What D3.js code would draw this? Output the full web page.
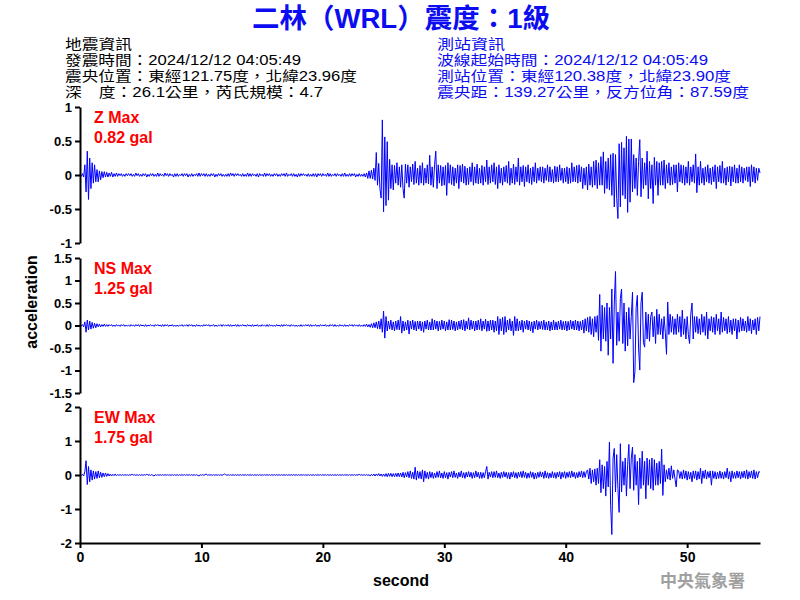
<!DOCTYPE html>
<html><head><meta charset="utf-8">
<script src="https://cdn.jsdelivr.net/npm/d3@7"></script>
<style>body{margin:0;background:#fff} svg{display:block}</style>
</head><body>
<svg id="c" width="800" height="600"></svg>
<script>
// ---- data (acceleration in gal, one value every SAMPLE_STEP seconds) ----
const SAMPLE_STEP = 0.1;
const zValues = [
 0.01,-0.02,0.02,-0.03,0.15,-0.25,0.35,-0.36,0.25,-0.2,
 0.18,-0.12,0.15,-0.1,0.08,-0.1,0.06,-0.07,0.05,-0.04,
 0.05,-0.03,0.04,-0.03,0.03,-0.02,0.04,-0.03,0.02,-0.02,
 0.03,-0.02,0.02,-0.01,0.02,-0.02,0.01,-0.02,0.02,-0.01,
 0.02,-0.01,0.02,-0.02,0.01,-0.02,0.03,-0.01,0.02,-0.02,
 0.01,-0.02,0.02,-0.01,0.02,-0.03,0.01,-0.02,0.02,-0.01,
 0.02,-0.02,0.01,-0.02,0.03,-0.02,0.02,-0.01,0.01,-0.02,
 0.03,-0.01,0.02,-0.02,0.02,-0.01,0.01,-0.03,0.02,-0.02,
 0.02,-0.02,0.01,-0.01,0.02,-0.02,0.02,-0.01,0.02,-0.03,
 0.01,-0.02,0.02,-0.02,0.01,-0.01,0.02,-0.02,0.03,-0.02,
 0.02,-0.01,0.02,-0.02,0.02,-0.02,0.01,-0.02,0.02,-0.01,
 0.02,-0.03,0.01,-0.02,0.02,-0.01,0.02,-0.02,0.01,-0.02,
 0.01,-0.02,0.02,-0.02,0.03,-0.01,0.02,-0.02,0.02,-0.01,
 0.02,-0.01,0.01,-0.02,0.02,-0.02,0.01,-0.02,0.03,-0.02,
 0.02,-0.02,0.02,-0.01,0.01,-0.02,0.02,-0.03,0.02,-0.01,
 0.01,-0.02,0.03,-0.02,0.02,-0.01,0.02,-0.02,0.01,-0.02,
 0.02,-0.01,0.02,-0.02,0.01,-0.02,0.02,-0.01,0.02,-0.02,
 0.03,-0.02,0.01,-0.01,0.02,-0.02,0.02,-0.02,0.01,-0.03,
 0.02,-0.02,0.02,-0.01,0.02,-0.01,0.01,-0.02,0.02,-0.02,
 0.01,-0.02,0.02,-0.02,0.02,-0.03,0.02,-0.01,0.02,-0.02,
 0.02,-0.01,0.01,-0.02,0.03,-0.02,0.02,-0.02,0.01,-0.01,
 0.02,-0.02,0.02,-0.01,0.01,-0.02,0.02,-0.02,0.03,-0.02,
 0.01,-0.02,0.02,-0.02,0.02,-0.01,0.02,-0.03,0.01,-0.02,
 0.02,-0.02,0.01,-0.02,0.02,-0.03,0.03,-0.05,0.06,-0.05,
 0.07,-0.06,0.1,-0.08,0.33,-0.15,0.17,-0.2,-0.34,0.81,
 -0.54,0.56,-0.45,0.49,-0.37,0.23,-0.2,0.15,-0.22,0.14,
 -0.12,0.18,-0.15,0.12,-0.18,0.15,-0.2,-0.34,0.16,-0.12,
 0.15,-0.18,0.12,-0.1,0.16,-0.14,0.2,-0.12,0.1,-0.15,
 0.14,-0.12,0.18,-0.15,0.1,-0.12,0.15,-0.13,0.29,-0.15,
 0.12,-0.18,0.15,0.35,-0.2,0.15,-0.12,0.14,-0.16,0.12,
 -0.15,0.14,-0.3,0.18,-0.12,0.15,-0.14,0.12,-0.16,0.1,
 -0.12,0.15,-0.2,0.14,-0.1,0.16,-0.12,0.13,-0.15,0.1,
 -0.14,0.12,-0.1,0.18,-0.15,0.12,-0.12,0.16,-0.13,0.1,
 -0.12,0.14,-0.15,0.12,-0.1,0.22,-0.14,0.12,-0.12,0.15,
 -0.1,0.18,-0.14,0.12,-0.2,0.15,-0.12,0.1,-0.15,0.12,
 -0.1,0.14,-0.12,0.2,-0.15,0.1,-0.12,0.16,-0.14,0.12,
 -0.1,0.25,-0.15,0.12,-0.1,0.14,-0.17,0.12,-0.1,0.15,
 -0.12,0.1,-0.14,0.12,-0.1,0.18,-0.12,0.1,-0.08,0.12,
 -0.1,0.12,-0.12,0.1,-0.08,0.15,-0.1,0.12,-0.1,0.08,
 -0.12,0.13,-0.1,0.12,-0.1,0.15,-0.08,0.1,-0.12,0.1,
 -0.1,0.12,-0.13,0.1,-0.12,0.18,-0.1,0.12,-0.1,0.14,
 -0.12,0.15,-0.1,0.12,-0.2,0.1,-0.15,0.12,-0.22,0.16,
 -0.15,0.12,-0.18,0.2,-0.15,0.22,-0.2,0.18,-0.15,0.27,
 -0.15,0.34,-0.27,0.2,-0.2,0.25,-0.22,0.3,-0.3,0.32,
 -0.47,0.3,-0.35,-0.64,0.46,-0.47,0.48,-0.3,0.4,-0.35,
 0.57,-0.55,0.53,-0.4,0.53,-0.25,0.3,-0.2,0.25,-0.3,
 0.2,0.52,-0.32,0.25,-0.2,0.18,-0.15,0.35,-0.35,0.2,
 -0.2,0.15,-0.42,0.26,-0.15,0.2,-0.3,0.18,-0.15,0.2,
 -0.15,0.22,-0.2,0.15,-0.12,0.18,-0.15,0.12,-0.14,0.15,
 -0.12,0.15,-0.25,0.18,-0.1,0.15,-0.12,0.14,-0.15,0.12,
 -0.12,0.2,-0.15,0.12,-0.1,0.15,-0.12,0.31,-0.26,0.12,
 -0.15,0.2,-0.12,0.1,-0.15,0.12,-0.1,0.15,-0.12,0.1,
 -0.14,0.12,-0.1,0.15,-0.2,0.12,-0.1,0.14,-0.12,0.2,
 -0.12,0.1,-0.15,0.12,-0.1,0.13,-0.16,0.12,-0.1,0.15,
 -0.12,0.1,-0.12,0.15,-0.1,0.12,-0.12,0.1,-0.08,0.12,
 -0.1,0.12,-0.17,0.15,-0.1,0.12,-0.12,0.1,-0.08,0.1,
 0.03
];
const nsValues = [
 0.01,-0.01,0.02,-0.03,0.08,-0.15,0.12,-0.1,0.1,-0.08,
 0.07,-0.06,0.05,-0.05,0.04,-0.03,0.03,-0.03,0.02,-0.02,
 0.03,-0.02,0.02,-0.02,0.02,-0.01,0.02,-0.02,0.01,-0.02,
 0.02,-0.01,0.01,-0.02,0.02,-0.01,0.02,-0.02,0.01,-0.01,
 0.01,-0.02,0.02,-0.01,0.01,-0.02,0.02,-0.01,0.02,-0.02,
 0.02,-0.01,0.01,-0.02,0.02,-0.02,0.01,-0.01,0.02,-0.01,
 0.01,-0.02,0.02,-0.01,0.02,-0.01,0.01,-0.02,0.02,-0.02,
 0.02,-0.01,0.02,-0.02,0.01,-0.01,0.02,-0.02,0.01,-0.02,
 0.01,-0.02,0.01,-0.01,0.02,-0.02,0.01,-0.01,0.02,-0.02,
 0.02,-0.01,0.02,-0.02,0.01,-0.02,0.02,-0.01,0.01,-0.02,
 0.01,-0.02,0.02,-0.01,0.02,-0.01,0.02,-0.02,0.01,-0.01,
 0.02,-0.02,0.01,-0.02,0.01,-0.01,0.02,-0.02,0.02,-0.01,
 0.01,-0.01,0.02,-0.02,0.02,-0.02,0.01,-0.01,0.02,-0.02,
 0.02,-0.02,0.01,-0.01,0.02,-0.01,0.01,-0.02,0.02,-0.01,
 0.01,-0.02,0.02,-0.02,0.01,-0.01,0.02,-0.02,0.01,-0.02,
 0.02,-0.01,0.01,-0.02,0.02,-0.02,0.02,-0.01,0.01,-0.02,
 0.01,-0.02,0.02,-0.01,0.01,-0.02,0.02,-0.02,0.02,-0.01,
 0.02,-0.01,0.01,-0.02,0.02,-0.01,0.01,-0.02,0.01,-0.02,
 0.01,-0.02,0.02,-0.02,0.01,-0.01,0.02,-0.01,0.02,-0.02,
 0.02,-0.02,0.01,-0.01,0.02,-0.02,0.01,-0.02,0.02,-0.01,
 0.01,-0.01,0.02,-0.02,0.01,-0.02,0.02,-0.01,0.02,-0.02,
 0.02,-0.02,0.01,-0.02,0.02,-0.01,0.01,-0.02,0.02,-0.02,
 0.01,-0.02,0.02,-0.01,0.02,-0.02,0.02,-0.01,0.01,-0.02,
 0.02,-0.02,0.01,-0.02,0.02,-0.02,0.03,-0.03,0.02,-0.04,
 0.04,-0.05,0.06,-0.05,0.08,-0.07,0.1,-0.08,0.15,-0.15,
 0.32,-0.28,0.2,-0.12,0.1,-0.08,0.12,-0.1,0.08,-0.12,
 0.1,-0.09,0.12,-0.1,0.2,-0.17,0.1,-0.12,0.08,-0.1,
 0.12,-0.19,0.1,-0.08,0.12,-0.1,0.09,-0.12,0.1,-0.08,
 0.1,-0.12,0.08,-0.15,0.1,-0.08,0.12,-0.1,0.08,-0.1,
 0.15,-0.1,0.12,-0.08,0.1,-0.12,0.09,-0.1,0.12,-0.08,
 0.1,-0.12,0.08,-0.1,0.13,-0.1,0.12,-0.09,0.1,-0.12,
 0.08,-0.1,0.1,-0.08,0.12,-0.1,0.13,-0.12,0.1,-0.08,
 0.17,-0.1,0.12,-0.08,0.1,-0.12,0.1,-0.1,0.12,-0.09,
 0.15,-0.12,0.1,-0.08,0.14,-0.13,0.1,-0.12,0.12,-0.1,
 0.12,-0.15,0.1,-0.12,0.2,-0.2,0.15,-0.12,0.18,-0.2,
 0.2,-0.15,0.12,-0.1,0.15,-0.12,0.1,-0.22,0.2,-0.12,
 0.15,-0.12,0.1,-0.1,0.12,-0.15,0.1,-0.08,0.12,-0.1,
 0.1,-0.12,0.08,-0.16,0.1,-0.08,0.12,-0.1,0.09,-0.08,
 0.1,-0.09,0.12,-0.1,0.08,-0.1,0.1,-0.12,0.08,-0.1,
 0.12,-0.1,0.08,-0.1,0.1,-0.08,0.12,-0.1,0.09,-0.1,
 0.1,-0.12,0.09,-0.1,0.12,-0.08,0.1,-0.1,0.12,-0.1,
 0.1,-0.12,0.09,-0.1,0.12,-0.17,0.15,-0.12,0.18,-0.15,
 0.2,-0.2,0.15,-0.25,0.2,-0.15,0.22,-0.33,0.69,-0.57,
 0.45,-0.3,0.4,-0.35,0.5,-0.66,0.4,-0.3,0.81,-0.84,
 0.5,1.2,-0.44,0.3,-0.35,0.6,0.81,-0.4,0.5,-0.57,
 0.3,-0.45,0.4,-0.3,0.2,0.74,-1.27,-1.03,0.4,0.67,
 -0.5,-0.99,0.5,0.74,-0.38,-0.48,0.3,-0.3,0.25,-0.35,
 0.2,0.3,-0.25,0.2,-0.4,0.36,-0.2,0.25,-0.2,0.15,
 -0.3,0.2,-0.15,-0.64,0.52,-0.2,0.25,-0.15,0.2,-0.2,
 0.15,-0.2,0.25,-0.15,0.2,-0.25,0.34,-0.2,0.15,-0.3,
 0.2,-0.2,-0.4,0.25,0.5,-0.3,0.2,-0.15,0.2,-0.18,
 0.15,-0.2,0.25,-0.15,0.2,-0.22,0.3,-0.3,0.15,-0.12,
 0.2,-0.15,0.18,-0.2,0.25,-0.12,0.15,-0.2,0.3,-0.15,
 0.18,-0.12,0.15,-0.18,0.2,-0.15,0.12,-0.2,0.15,-0.12,
 0.15,-0.3,0.12,-0.15,0.18,-0.12,0.15,-0.12,0.1,-0.15,
 0.2,-0.12,0.15,-0.18,0.12,-0.1,0.15,-0.2,0.18,-0.12,
 0.2
];
const ewValues = [
 0.01,-0.01,0.02,-0.03,0.1,0.42,-0.28,0.25,-0.2,0.15,
 -0.15,0.12,-0.12,0.1,-0.1,0.12,-0.08,0.08,-0.07,0.06,
 -0.05,0.06,-0.04,0.04,-0.03,0.03,-0.03,0.02,-0.02,0.03,
 -0.02,0.01,-0.01,0.01,-0.01,0.01,-0.01,0.01,-0.01,0.01,
 -0.01,0.01,-0.01,0.03,-0.01,0.01,-0.01,0.01,-0.01,0.01,
 -0.01,0.01,-0.01,0.01,-0.01,0.03,-0.01,0.01,-0.01,0.01,
 -0.01,-0.03,0.01,-0.01,0.01,-0.01,0.01,-0.01,0.01,-0.01,
 0.01,-0.01,0.01,-0.01,0.01,-0.01,0.01,-0.01,0.01,-0.01,
 0.01,-0.01,0.01,-0.01,0.01,-0.01,0.01,-0.01,0.01,-0.01,
 0.01,-0.01,0.01,-0.01,0.01,-0.01,0.01,-0.01,-0.03,0.01,
 -0.01,0.01,-0.01,0.01,0.03,-0.01,0.01,-0.01,0.01,-0.01,
 0.01,-0.01,0.01,-0.01,0.01,-0.01,0.01,-0.01,0.01,0.03,
 0.01,-0.01,0.01,-0.01,0.01,-0.01,0.01,-0.01,0.01,-0.01,
 0.01,-0.01,0.01,-0.01,0.01,-0.01,0.01,-0.01,0.01,-0.01,
 0.01,-0.01,0.01,-0.01,0.01,-0.01,0.01,-0.01,0.01,-0.01,
 0.01,-0.01,0.01,-0.01,0.01,-0.01,0.01,-0.01,0.01,-0.01,
 0.01,-0.01,0.01,-0.01,0.01,-0.01,0.01,-0.01,0.01,-0.01,
 0.01,-0.01,0.01,-0.01,0.01,-0.01,0.01,-0.01,0.01,-0.01,
 0.01,-0.01,0.01,-0.01,0.01,-0.01,0.01,-0.01,0.01,-0.01,
 0.01,-0.01,0.01,-0.01,0.01,-0.01,0.01,-0.01,0.01,-0.01,
 0.01,-0.01,0.01,-0.01,0.01,-0.01,0.01,-0.01,0.01,-0.01,
 0.01,-0.01,0.01,-0.01,0.01,-0.01,0.01,-0.01,0.01,-0.01,
 0.01,-0.01,0.01,-0.01,0.01,-0.01,0.01,-0.01,0.01,-0.01,
 0.03,-0.01,0.01,-0.01,0.01,-0.01,0.01,-0.01,0.01,-0.03,
 0.02,-0.02,0.03,-0.03,0.03,-0.02,0.04,-0.03,0.03,-0.04,
 0.03,-0.04,0.04,-0.05,0.05,-0.04,0.05,-0.05,0.04,-0.05,
 0.05,-0.05,0.06,-0.05,0.06,-0.06,0.08,-0.08,0.07,-0.06,
 0.1,-0.08,0.12,-0.1,0.08,-0.12,0.23,-0.15,0.12,-0.1,
 0.1,-0.12,0.15,-0.2,0.12,-0.1,0.08,-0.12,0.1,-0.08,
 0.08,-0.1,0.06,-0.08,0.1,-0.07,0.12,-0.08,0.06,-0.1,
 0.1,-0.08,0.07,-0.12,0.08,-0.06,0.1,-0.08,0.12,-0.07,
 0.06,-0.1,0.08,-0.06,0.12,-0.08,0.07,-0.1,0.08,-0.06,
 0.1,-0.06,0.08,-0.1,0.07,-0.08,0.12,-0.06,0.08,-0.1,
 0.08,-0.1,0.07,-0.08,0.1,0.25,-0.12,0.08,-0.06,0.1,
 -0.08,0.1,-0.07,0.12,-0.08,0.06,-0.1,0.08,-0.07,0.1,
 -0.06,0.08,-0.1,0.07,-0.12,0.08,-0.06,0.1,-0.08,0.07,
 -0.1,0.08,-0.06,0.1,-0.08,0.12,-0.07,0.08,-0.1,0.06,
 -0.08,0.1,-0.07,0.08,-0.12,0.06,-0.1,0.08,-0.07,0.1,
 -0.06,0.08,-0.1,0.12,-0.08,0.07,-0.1,0.06,-0.08,0.1,
 -0.08,0.07,-0.1,0.08,-0.06,0.1,-0.12,0.08,-0.07,0.1,
 -0.1,0.08,-0.07,0.1,-0.08,0.12,-0.06,0.08,-0.1,0.07,
 -0.08,0.1,-0.06,0.12,-0.08,0.1,-0.07,0.1,0.15,-0.12,
 0.2,-0.25,0.15,-0.2,0.18,-0.3,0.2,-0.25,0.45,-0.52,
 0.3,-0.4,0.25,-0.62,0.4,-0.35,0.97,-0.9,-1.75,0.5,
 0.78,-0.5,0.6,-0.4,-1.1,0.92,-0.5,0.4,-0.3,0.5,
 -0.62,0.3,0.9,-0.4,0.5,0.82,-0.45,0.6,-0.3,0.4,
 -0.87,0.5,-0.4,0.7,-0.3,0.4,-0.7,0.5,-0.3,0.45,
 -0.4,0.5,-0.45,0.45,-0.3,0.35,-0.3,0.4,-0.25,0.76,
 -0.6,0.3,-0.2,0.15,-0.12,0.2,-0.15,0.27,-0.1,0.15,
 -0.12,-0.35,0.15,0.12,-0.1,0.1,-0.12,0.15,-0.1,0.12,
 -0.15,0.1,-0.12,0.08,-0.2,0.12,-0.1,0.12,-0.15,0.1,
 -0.12,0.2,-0.25,0.12,-0.1,0.15,-0.12,0.1,-0.08,0.12,
 -0.3,0.12,-0.1,0.1,-0.12,0.08,-0.1,0.12,-0.1,0.08,
 -0.12,0.1,-0.08,0.2,-0.12,0.1,-0.2,0.12,-0.1,0.08,
 -0.1,0.12,-0.08,0.1,-0.12,0.1,-0.08,0.12,-0.1,0.15,
 -0.12,0.1,-0.08,0.12,-0.1,0.15,-0.12,0.1,-0.08,0.1,
 0.08
];
const channelNames = ["Z Max", "NS Max", "EW Max"];
const maxLabels = ["0.82 gal", "1.25 gal", "1.75 gal"];
const yDomains = [[-1, 1], [-1.5, 1.5], [-2, 2]];
const yTickValues = [[-1, -0.5, 0, 0.5, 1], [-1.5, -1, -0.5, 0, 0.5, 1, 1.5], [-2, -1, 0, 1, 2]];
const xTickValues = [0, 10, 20, 30, 40, 50];
const xDomain = [0, 56];
const titleText = "二林（WRL）震度：1級";
const quakeInfo = ["地震資訊", "發震時間：2024/12/12 04:05:49", "震央位置：東經121.75度，北緯23.96度", "深　度：26.1公里，芮氏規模：4.7"];
const stationInfo = ["測站資訊", "波線起始時間：2024/12/12 04:05:49", "測站位置：東經120.38度，北緯23.90度", "震央距：139.27公里，反方位角：87.59度"];
const yLabel = "acceleration";
const xLabel = "second";
const agency = "中央氣象署";

// ---- drawing ----
const FONT = "'Liberation Sans', Arial, 'Noto Sans CJK TC', sans-serif";
const svg = d3.select("#c");
const traceColor = "#0000ff";
const infoBlue = "#0c0cf0";
const x = d3.scaleLinear().domain(xDomain).range([80, 760]);
const panelBands = [[107, 243], [258, 393], [407, 543]];
const series = [zValues, nsValues, ewValues];
// rendered widths of the header lines (layout only)
const quakeWidths = [67, 236, 292, 258];
const stationWidths = [68, 271, 294, 312];

svg.append("text").attr("x", 401).attr("y", 28).attr("text-anchor", "middle")
  .attr("font-family", FONT).attr("font-size", 27.5).attr("font-weight", "bold")
  .attr("fill", infoBlue).text(titleText);

function infoBlock(lines, widths, x0, color) {
  lines.forEach((t, i) => {
    svg.append("text").attr("x", x0).attr("y", 49 + i * 16)
      .attr("font-family", FONT).attr("font-size", 14.2).attr("fill", color)
      .attr("textLength", widths[i]).attr("lengthAdjust", "spacingAndGlyphs").text(t);
  });
}
infoBlock(quakeInfo, quakeWidths, 65, "#000");
infoBlock(stationInfo, stationWidths, 437, infoBlue);

series.forEach((vals, k) => {
  const [top, bottom] = panelBands[k];
  const y = d3.scaleLinear().domain(yDomains[k]).range([bottom, top]);
  const line = d3.line().x((d, i) => x(i * SAMPLE_STEP)).y(d => y(d));
  svg.append("path").datum(vals).attr("d", line)
    .attr("fill", "none").attr("stroke", traceColor).attr("stroke-width", 1);

  const ax = svg.append("g").attr("transform", "translate(80,0)")
    .call(d3.axisLeft(y).tickValues(yTickValues[k]).tickSize(5).tickSizeOuter(0).tickPadding(3).tickFormat(d => String(d)));
  ax.select(".domain").attr("stroke", "#000").attr("stroke-width", 2);
  ax.selectAll(".tick line").attr("stroke", "#000").attr("stroke-width", 2);
  ax.selectAll(".tick text").attr("font-family", FONT).attr("font-size", 13).attr("font-weight", "bold").attr("fill", "#000");

  svg.append("text").attr("x", 94).attr("y", top + 16)
    .attr("font-family", FONT).attr("font-size", 16).attr("font-weight", "bold").attr("fill", "#ff0000").text(channelNames[k]);
  svg.append("text").attr("x", 94).attr("y", top + 36)
    .attr("font-family", FONT).attr("font-size", 16).attr("font-weight", "bold").attr("fill", "#ff0000").text(maxLabels[k]);
});

const xa = svg.append("g").attr("transform", "translate(0,543)")
  .call(d3.axisBottom(x).tickValues(xTickValues).tickSize(5).tickSizeOuter(0).tickPadding(4).tickFormat(d => String(d)));
xa.select(".domain").attr("stroke", "#000").attr("stroke-width", 2);
xa.selectAll(".tick line").attr("stroke", "#000").attr("stroke-width", 2);
xa.selectAll(".tick text").attr("font-family", FONT).attr("font-size", 14).attr("font-weight", "bold").attr("fill", "#000");

svg.append("text").attr("transform", "translate(37,302) rotate(-90)").attr("text-anchor", "middle")
  .attr("font-family", FONT).attr("font-size", 16).attr("font-weight", "bold").attr("fill", "#000").text(yLabel);
svg.append("text").attr("x", 401).attr("y", 586).attr("text-anchor", "middle")
  .attr("font-family", FONT).attr("font-size", 16).attr("font-weight", "bold").attr("fill", "#000").text(xLabel);
svg.append("text").attr("x", 745).attr("y", 587).attr("text-anchor", "end")
  .attr("font-family", "'Noto Sans CJK TC', sans-serif").attr("font-size", 17).attr("font-weight", "bold")
  .attr("fill", "#a0a0a0").text(agency);
</script>
</body></html>
